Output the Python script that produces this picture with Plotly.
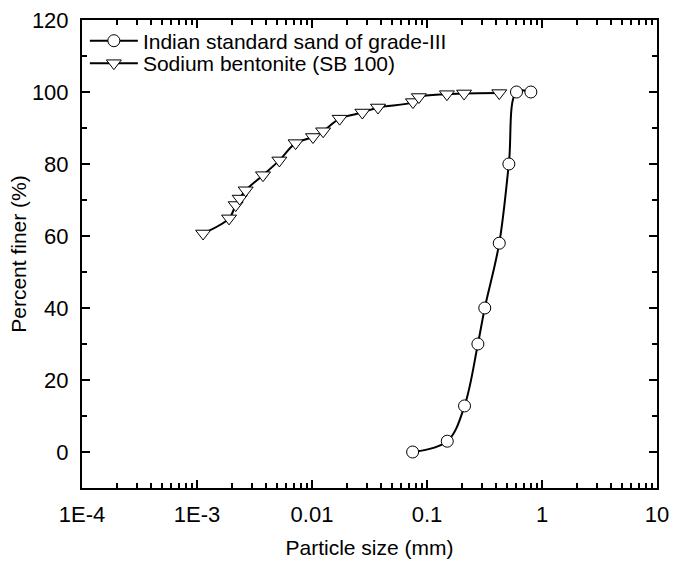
import plotly.graph_objects as go

# Indian standard sand of grade-III
sand_size = [0.075, 0.15, 0.212, 0.277, 0.318, 0.425, 0.515, 0.6, 0.8]
sand_finer = [0, 3, 12.8, 30, 40, 58, 80, 100, 100]

# Sodium bentonite (SB 100)
bent_size = [0.00113, 0.0019, 0.00217, 0.00235, 0.00265, 0.00375, 0.0052, 0.0072,
             0.0102, 0.0125, 0.0174, 0.0274, 0.0375, 0.0755, 0.085, 0.149, 0.21, 0.425]
bent_finer = [60.7, 64.9, 68.6, 70.4, 72.7, 76.9, 81.0, 85.8,
              87.5, 89.1, 92.6, 94.3, 95.7, 97.2, 98.6, 99.4, 99.6, 99.7]

x_tickvals = [1e-4, 1e-3, 1e-2, 1e-1, 1, 10]
x_ticktext = ["1E-4", "1E-3", "0.01", "0.1", "1", "10"]
x_minor = [m * d for d in [1e-4, 1e-3, 1e-2, 1e-1, 1] for m in range(2, 10)]

font_family = "Liberation Sans, Arial, sans-serif"

fig = go.Figure()
fig.add_trace(go.Scatter(
    x=sand_size, y=sand_finer, mode="lines+markers",
    name="Indian standard sand of grade-III", legend="legend",
    line=dict(color="black", width=2, shape="spline"),
    marker=dict(symbol="circle", size=12, color="white",
                line=dict(color="black", width=1)),
))
fig.add_trace(go.Scatter(
    x=bent_size, y=bent_finer, mode="lines+markers",
    name="Sodium bentonite (SB 100)", legend="legend2",
    line=dict(color="black", width=2, shape="spline"),
    marker=dict(symbol="triangle-down", size=13, color="white",
                line=dict(color="black", width=1)),
))

legend_common = dict(x=0.005, xanchor="left", yanchor="middle",
                     bgcolor="rgba(0,0,0,0)", font=dict(size=21),
                     itemwidth=48)

fig.update_layout(
    width=673, height=561,
    margin=dict(l=82, r=16, t=20, b=73, autoexpand=False),
    paper_bgcolor="white", plot_bgcolor="white",
    font=dict(family=font_family, size=21, color="black"),
    showlegend=True,
    legend=dict(y=0.955, **legend_common),
    legend2=dict(y=0.907, **legend_common),
)
fig.update_xaxes(
    type="log", range=[-4, 1], automargin=False,
    tickmode="array", tickvals=x_tickvals, ticktext=x_ticktext,
    ticks="inside", ticklen=8, tickwidth=1.5, tickcolor="black",
    ticklabelstandoff=6,
    minor=dict(tickmode="array", tickvals=x_minor, ticks="inside",
               ticklen=5, tickwidth=1.5, tickcolor="black", showgrid=False),
    showline=True, linecolor="black", linewidth=2, mirror="ticks",
    showgrid=False, zeroline=False,
    title=dict(text="Particle size (mm)", font=dict(size=21), standoff=14),
    tickfont=dict(size=22),
)
fig.update_yaxes(
    range=[-10, 120], automargin=False, tickmode="linear", tick0=0, dtick=20,
    ticks="inside", ticklen=8, tickwidth=1.5, tickcolor="black",
    ticklabelstandoff=7,
    minor=dict(tick0=0, dtick=10, ticks="inside", ticklen=5, tickwidth=1.5,
               tickcolor="black", showgrid=False),
    showline=True, linecolor="black", linewidth=2, mirror="ticks",
    showgrid=False, zeroline=False,
    title=dict(text="Percent finer (%)", font=dict(size=21), standoff=0),
    tickfont=dict(size=22),
)

fig.write_html("out.html", config={"displayModeBar": False},
               post_script="document.body.style.margin='0';document.body.style.padding='0';")
